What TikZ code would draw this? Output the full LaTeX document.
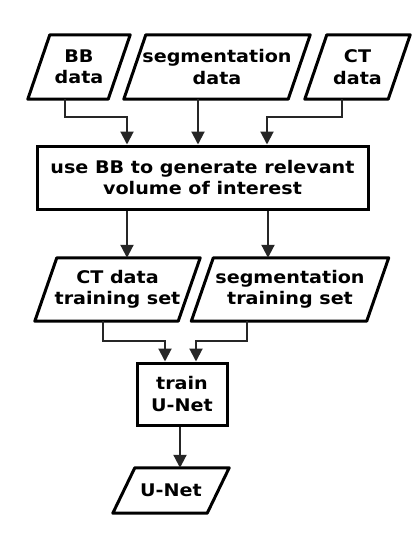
\documentclass[tikz,border=0pt]{standalone}
\usepackage{fontspec}
\newfontfamily\flowfont[FakeStretch=1.1]{DejaVu Sans}
\usetikzlibrary{arrows.meta,calc}

\begin{document}
\begin{tikzpicture}[x=1pt,y=-1pt,
	flowtext/.style={font=\flowfont\bfseries\fontsize{17.4}{21.5}\selectfont, align=center, inner sep=0pt},
	data/.style={flowtext},
	procbox/.style={flowtext, draw, line width=3pt},
	outline/.style={line width=3pt, line join=round},
	flow/.style={line width=2pt, black!85, -{Triangle[length=13pt,width=13pt]}}]
		\useasboundingbox (0,0) rectangle (414,538);
		\node[data, minimum width=80, minimum height=64] (bb) at (79,67) {BB\\data};
		\node[data, minimum width=164, minimum height=64] (seg) at (217,67) {segmentation\\data};
		\node[data, minimum width=83, minimum height=64] (ct) at (357.5,67) {CT\\data};
		\node[procbox, minimum width=331, minimum height=63] (voi) at (202.5,177.5) {use BB to generate relevant\\volume of interest};
		\node[data, minimum width=143, minimum height=63] (cttrain) at (117.5,289.5) {CT data\\training set};
		\node[data, minimum width=175, minimum height=63] (segtrain) at (290,289.5) {segmentation\\training set};
		\node[procbox, minimum width=90, minimum height=62] (train) at (182,394) {train\\U-Net};
		\node[data, minimum width=94, minimum height=45] (unet) at (171,490.5) {U-Net};
		% slanted data boxes
		\foreach \n in {bb,seg,ct,cttrain,segtrain,unet}
			\draw[outline] ($(\n.south west)+(-11,0)$) -- ($(\n.south east)+(-11,0)$) -- ($(\n.north east)+(11,0)$) -- ($(\n.north west)+(11,0)$) -- cycle;
		% inputs
		\draw[flow] ([xshift=-14]bb.south) -- ++(0,18) -| ([xshift=-75.5]voi.north);
		\draw[flow] ([xshift=-19]seg.south) -- ([xshift=-19]seg.south |- voi.north);
		\draw[flow] ([xshift=-15.5]ct.south) -- ++(0,18) -| ([xshift=64.5]voi.north);
		% training sets
		\draw[flow] ([xshift=-75.5]voi.south) -- ([xshift=-75.5]voi.south |- cttrain.north);
		\draw[flow] ([xshift=65.5]voi.south) -- ([xshift=65.5]voi.south |- segtrain.north);
		\draw[flow] ([xshift=-14.5]cttrain.south) -- ++(0,20) -| ([xshift=-17]train.north);
		\draw[flow] ([xshift=-43]segtrain.south) -- ++(0,20) -| ([xshift=14]train.north);
		\draw[flow] ([xshift=-2]train.south) -- ([xshift=-2]train.south |- unet.north);
	\end{tikzpicture}
\end{document}
